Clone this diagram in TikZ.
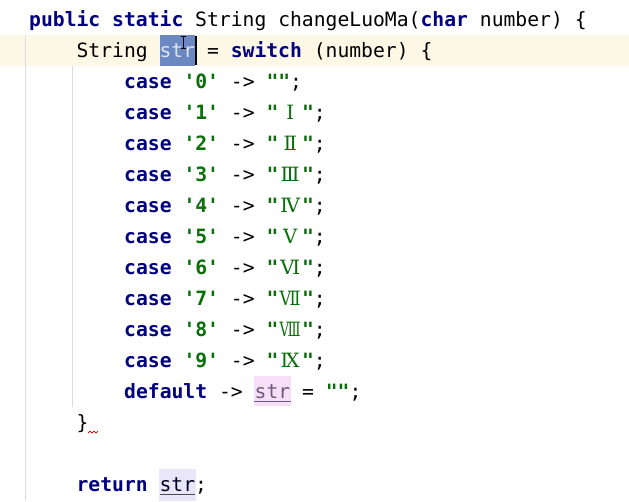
\documentclass[tikz,border=0pt]{standalone}
\usepackage{fontspec}
\usepackage{graphicx}
\setmonofont{DejaVu Sans Mono}
\newfontfamily\romfont{DejaVu Serif}
\usetikzlibrary{positioning}

\definecolor{kwnavy}{HTML}{000080}
\definecolor{strgreen}{HTML}{0A6E0A}
\definecolor{caretline}{HTML}{FDF8E6}
\definecolor{guide}{HTML}{DDDDDD}
\definecolor{selblue}{HTML}{6C88C2}
\definecolor{seltext}{HTML}{DCE4F4}
\definecolor{writebg}{HTML}{F8DFF8}
\definecolor{readbg}{HTML}{E9E6FA}
\definecolor{reassign}{HTML}{6E5C80}

\newcommand\kw[1]{\textcolor{kwnavy}{\bfseries #1}}
\newcommand\strlit[1]{\textcolor{strgreen}{\bfseries #1}}
% roman numeral squeezed into two character cells
\newsavebox\rmnbox
\newcommand\rmn[1]{\sbox\rmnbox{\romfont\mdseries #1}%
    \makebox[23.7pt][c]{\ifdim\wd\rmnbox>21pt
        \resizebox{21pt}{\ht\rmnbox}{\usebox\rmnbox}\else\usebox\rmnbox\fi}}

\begin{document}
\begin{tikzpicture}[x=1pt,y=-1pt,
    code/.style={anchor=base west, inner sep=0pt,
                 font=\ttfamily\fontsize{19.7}{31}\selectfont}]
\useasboundingbox (0,0) rectangle (629,501);
\fill[white] (0,0) rectangle (629,501);

% editor backdrop: caret row and indent guides
\fill[caretline] (0,35) rectangle (629,66);
\draw[guide] (25,35) -- (25,501);
\draw[guide] (72,66) -- (72,407);

% highlighted usages of str
\fill[selblue] (160,35) rectangle (195,66);
\fill[writebg] (254,376) rectangle (291,406);
\fill[readbg] (159,469) rectangle (196,501);

\node[code] (sig) at (29,26)
    {\kw{public} \kw{static} String changeLuoMa(\kw{char} number) \{};
\node[code] (assign) at (76.4,57)
    {String \textcolor{seltext}{str} = \kw{switch} (number) \{};
\node[code] (case0) at (124,88)
    {\kw{case} \strlit{'0'} -> \strlit{""};};
    \foreach \n/\r [count=\k from 4] in {1/Ⅰ, 2/Ⅱ, 3/Ⅲ,
                                         4/Ⅳ, 5/Ⅴ, 6/Ⅵ,
                                         7/Ⅶ, 8/Ⅷ, 9/Ⅸ} {
        \node[code] (case\n) at (124,{26+31*(\k-1)})
            {\kw{case} \strlit{'\n'} -> \strlit{"\rmn{\r}"};};
    }
\node[code] (dflt) at (124,398)
    {\kw{default} -> \textcolor{reassign}{str} = \strlit{""};};
\node[code] (close) at (76.4,429) {\}};
\node[code] (ret) at (76.4,491)
    {\kw{return} \textcolor{black!85!blue}{str};};

% underlines, caret, mouse pointer, warning mark
\draw[reassign] (254,401) -- (291,401);
\draw[black!70] (160,494) -- (195,494);
\draw[line width=2pt] (196,36) -- (196,65);
\draw[line width=0.8pt] (183,36) -- (183,48)
    (180.5,36) -- (185.5,36) (180.5,48) -- (185.5,48);
\draw[red!80!black, line width=0.7pt]
    (88,433) -- ++(2,-2) -- ++(2,2) -- ++(2,-2) -- ++(2,2) -- ++(2,-2);
\end{tikzpicture}
\end{document}
